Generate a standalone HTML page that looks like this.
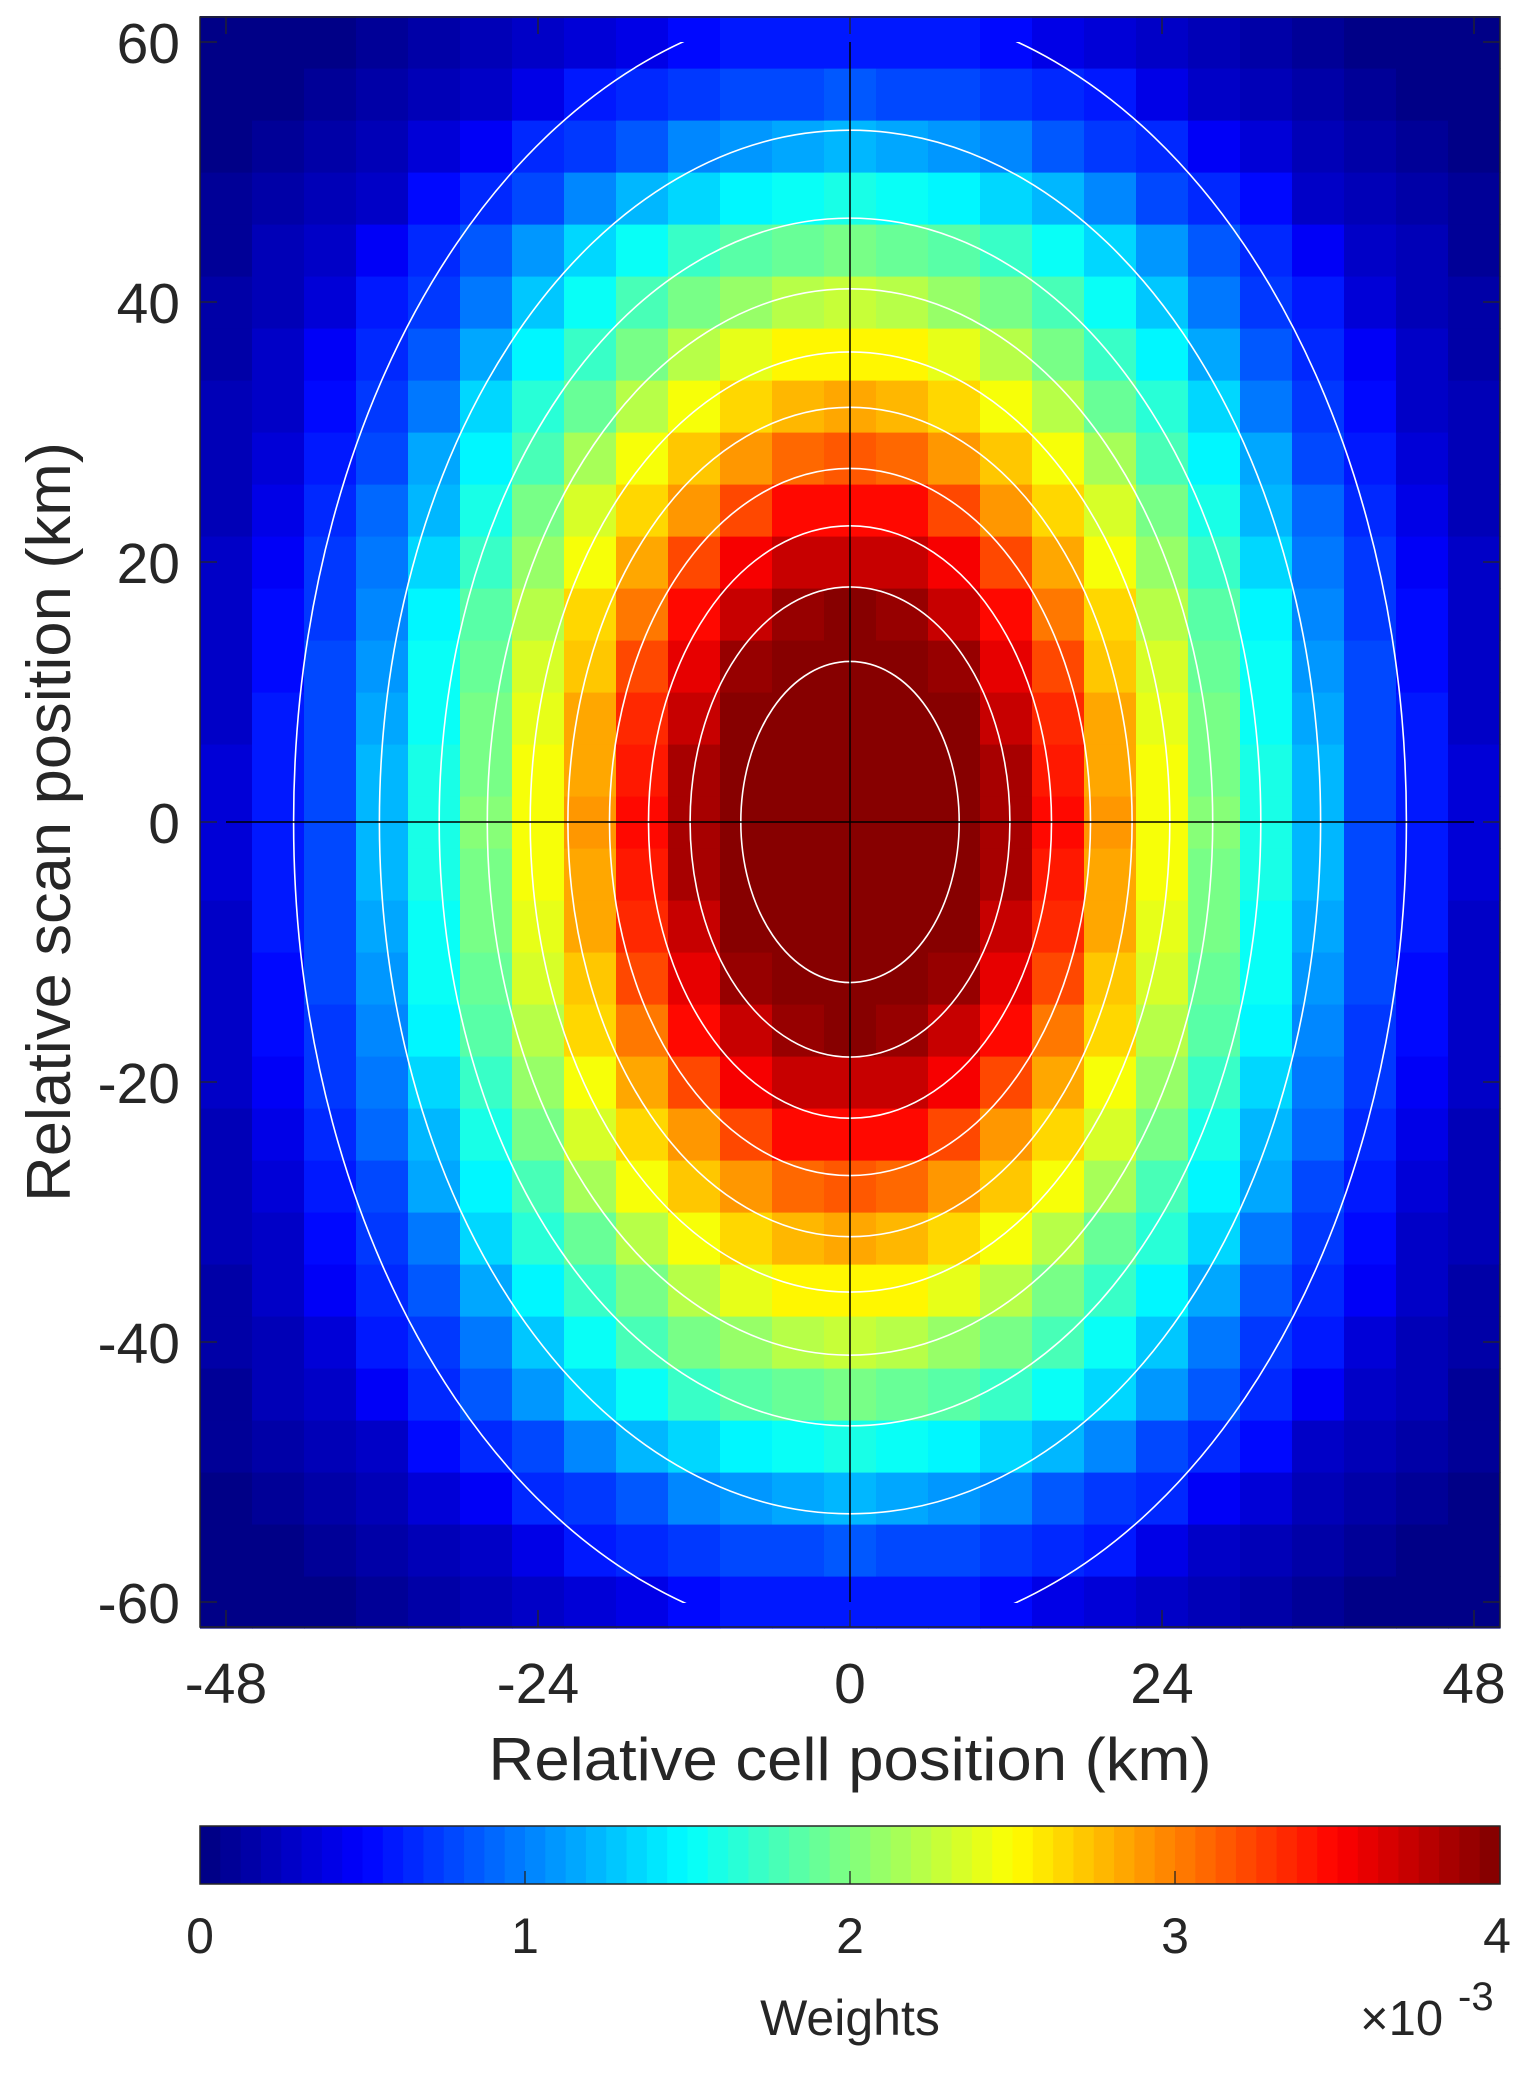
<!DOCTYPE html>
<html><head><meta charset="utf-8"><style>
html,body{margin:0;padding:0;background:#fff;}
svg{display:block;}
text{font-family:"Liberation Sans",sans-serif;fill:#262626;}
</style></head><body>
<svg id="s" width="1532" height="2073" xmlns="http://www.w3.org/2000/svg">
<defs><clipPath id="cp"><rect x="200" y="42" width="1300" height="1561"/></clipPath></defs>
<g id="heat"></g>
<g id="cont" clip-path="url(#cp)" fill="none" stroke="#fff" stroke-width="1.6"></g>
<line x1="226" y1="822" x2="1474" y2="822" stroke="#000" stroke-width="1.5"/>
<line x1="850" y1="42" x2="850" y2="1602" stroke="#000" stroke-width="1.5"/>
<g id="ticks" stroke="#262626" stroke-width="1.3"></g>
<rect x="200" y="17" width="1300" height="1610" fill="none" stroke="#262626" stroke-width="1.5"/>
<g font-size="57" text-anchor="end">
<text x="180" y="63">60</text><text x="180" y="323">40</text><text x="180" y="583">20</text>
<text x="180" y="843">0</text><text x="180" y="1103">-20</text><text x="180" y="1363">-40</text><text x="180" y="1623">-60</text>
</g>
<g font-size="57" text-anchor="middle">
<text x="226" y="1703">-48</text><text x="538" y="1703">-24</text><text x="850" y="1703">0</text>
<text x="1162" y="1703">24</text><text x="1474" y="1703">48</text>
</g>
<text x="850" y="1780" font-size="60" text-anchor="middle" textLength="723" lengthAdjust="spacingAndGlyphs">Relative cell position (km)</text>
<text transform="translate(70,822) rotate(-90)" font-size="62" text-anchor="middle" textLength="760" lengthAdjust="spacingAndGlyphs">Relative scan position (km)</text>
<g id="cbar"></g>
<rect x="200" y="1826" width="1300" height="58" fill="none" stroke="#262626" stroke-width="1.5"/>
<g font-size="50" text-anchor="middle">
<text x="200" y="1953">0</text><text x="525" y="1953">1</text><text x="850" y="1953">2</text>
<text x="1175" y="1953">3</text><text x="1497" y="1953">4</text>
</g>
<text x="850" y="2035" font-size="50" text-anchor="middle">Weights</text>
<text x="1360" y="2035" font-size="49">×10</text>
<text x="1458" y="2010" font-size="40">-3</text>
</svg>
<script>
var NS="http://www.w3.org/2000/svg";
function el(p,t,a){var e=document.createElementNS(NS,t);for(var k in a)e.setAttribute(k,a[k]);p.appendChild(e);return e;}
function cl(v){return Math.max(0,Math.min(1,v));}
function jet(v){var i=Math.floor(cl(v)*64);if(i>63)i=63;var u=(i+0.5)/64;
var r=cl(1.5-Math.abs(4*u-3)),g=cl(1.5-Math.abs(4*u-2)),b=cl(1.5-Math.abs(4*u-1));
return "rgb("+Math.round(r*255)+","+Math.round(g*255)+","+Math.round(b*255)+")";}
var tr=[0,8,12,16,20,24,28,32,36,40,44,48,52,60,200],tv=[1.3,1.05,0.96,0.86,0.72,0.62,0.5,0.4,0.3,0.2,0.15,0.08,0.05,0.01,0];
function val(r){for(var i=1;i<tr.length;i++){if(r<=tr[i]){var f=(r-tr[i-1])/(tr[i]-tr[i-1]);return tv[i-1]+f*(tv[i]-tv[i-1]);}}return 0;}
function px(x){return 850+13*x;}function py(y){return 822-13*y;}
var h=document.getElementById("heat");
for(var i=-12;i<=12;i++)for(var j=-15;j<=15;j++){var x=4*i,y=4*j;var ay=Math.abs(y);
var yy=ay/1.55+Math.max(0,ay-44)*0.3;var r=Math.sqrt(x*x+yy*yy);
el(h,"rect",{x:px(x-2),y:py(y+2),width:52.6,height:52.6,fill:jet(val(r))});}
var c=document.getElementById("cont");
[8.4,12.3,15.5,18.5,21.7,24.6,27.9,31.6,36.2,42.8].forEach(function(a){
el(c,"ellipse",{cx:850,cy:822,rx:13*a,ry:13*a*1.47});});
var t=document.getElementById("ticks");
[-48,-24,0,24,48].forEach(function(x){el(t,"line",{x1:px(x),y1:1627,x2:px(x),y2:1610});el(t,"line",{x1:px(x),y1:17,x2:px(x),y2:34});});
[-60,-40,-20,0,20,40,60].forEach(function(y){el(t,"line",{x1:200,y1:py(y),x2:217,y2:py(y)});el(t,"line",{x1:1500,y1:py(y),x2:1483,y2:py(y)});});
var cb=document.getElementById("cbar");
for(var k=0;k<64;k++){el(cb,"rect",{x:200+k*1300/64,y:1826,width:1300/64+0.6,height:58,fill:jet((k+0.5)/64)});}
[1,2,3].forEach(function(k){el(cb,"line",{x1:200+325*k,y1:1884,x2:200+325*k,y2:1871,stroke:"#262626","stroke-width":1.3});});
</script>
</body></html>
